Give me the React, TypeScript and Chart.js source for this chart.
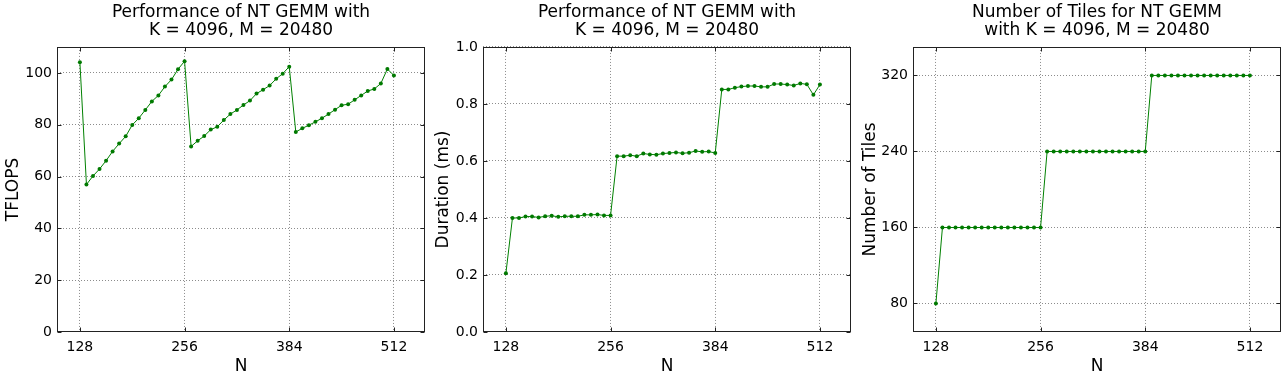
import React, { useEffect, useRef } from "react";
import { Chart, registerables } from "chart.js";

Chart.register(...registerables);

const nValues = [
  128, 136, 144, 152, 160, 168, 176, 184, 192, 200, 208, 216, 224, 232, 240, 248, 256,
  264, 272, 280, 288, 296, 304, 312, 320, 328, 336, 344, 352, 360, 368, 376, 384,
  392, 400, 408, 416, 424, 432, 440, 448, 456, 464, 472, 480, 488, 496, 504, 512,
];

const tflops = [
  104.1, 56.9, 60.2, 62.9, 66.1, 69.7, 72.7, 75.5, 79.9, 82.5, 85.7, 89.0, 91.3, 94.7, 97.4, 101.4, 104.5,
  71.6, 73.8, 75.6, 78.1, 79.2, 81.8, 84.1, 85.7, 87.6, 89.3, 92.0, 93.5, 95.1, 97.7, 99.7, 102.4,
  77.2, 78.6, 79.8, 81.1, 82.5, 84.1, 85.8, 87.5, 87.9, 89.6, 91.3, 93.0, 93.8, 95.9, 101.5, 99.0,
];

const durationMs = [
  0.206, 0.4, 0.4, 0.405, 0.405, 0.402, 0.406, 0.408, 0.404, 0.406, 0.406, 0.406, 0.411, 0.411, 0.412, 0.409, 0.409,
  0.617, 0.617, 0.62, 0.617, 0.626, 0.623, 0.622, 0.626, 0.628, 0.63, 0.627, 0.629, 0.635, 0.632, 0.633, 0.628,
  0.851, 0.851, 0.857, 0.861, 0.863, 0.863, 0.86, 0.86, 0.87, 0.87, 0.868, 0.865, 0.872, 0.869, 0.832, 0.868,
];

const tiles = [
  80, 160, 160, 160, 160, 160, 160, 160, 160, 160, 160, 160, 160, 160, 160, 160, 160,
  240, 240, 240, 240, 240, 240, 240, 240, 240, 240, 240, 240, 240, 240, 240, 240,
  320, 320, 320, 320, 320, 320, 320, 320, 320, 320, 320, 320, 320, 320, 320, 320,
];

const xTicks = [128, 256, 384, 512];
const tflopsTicks = [0, 20, 40, 60, 80, 100];
const durationTicks = [0, 0.2, 0.4, 0.6, 0.8, 1.0];
const tileTicks = [80, 160, 240, 320];

const titleA = ["Performance of NT GEMM with", "K = 4096, M = 20480"];
const titleC = ["Number of Tiles for NT GEMM", "with K = 4096, M = 20480"];

const FONT = "'DejaVu Sans', 'Liberation Sans', sans-serif";
const Y_W = 60;
const CANVAS_W = 488;
const CANVAS_H = 377;

const framePlugin = {
  id: "frameTicks",
  afterDraw(chart: any) {
    const { ctx, chartArea: a, scales } = chart;
    ctx.save();
    ctx.strokeStyle = "#222";
    ctx.lineWidth = 1;
    const L = Math.round(a.left) + 0.5;
    const R = Math.round(a.right) - 0.5;
    const T = Math.round(a.top) + 0.5;
    const B = Math.round(a.bottom) - 0.5;
    ctx.strokeRect(L, T, R - L, B - T);
    const tl = 4;
    ctx.beginPath();
    scales.x.ticks.forEach((t: any) => {
      const px = Math.round(scales.x.getPixelForValue(t.value)) + 0.5;
      ctx.moveTo(px, B);
      ctx.lineTo(px, B - tl);
      ctx.moveTo(px, T);
      ctx.lineTo(px, T + tl);
    });
    scales.y.ticks.forEach((t: any) => {
      const py = Math.round(scales.y.getPixelForValue(t.value)) + 0.5;
      ctx.moveTo(L, py);
      ctx.lineTo(L + tl, py);
      ctx.moveTo(R, py);
      ctx.lineTo(R - tl, py);
    });
    ctx.stroke();
    ctx.restore();
  },
};

type PanelProps = {
  left: number;
  title: string[];
  yLabel: string;
  yValues: number[];
  yMin: number;
  yMax: number;
  yTicks: number[];
  yFmt: (v: number) => string;
  yTitlePad: number;
};

function Panel(p: PanelProps) {
  const ref = useRef<HTMLCanvasElement | null>(null);
  useEffect(() => {
    if (!ref.current) return;
    const chart = new Chart(ref.current, {
      type: "line",
      data: {
        datasets: [
          {
            data: nValues.map((n, i) => ({ x: n, y: p.yValues[i] })),
            borderColor: "#008000",
            backgroundColor: "#008000",
            borderWidth: 1,
            pointRadius: 2,
            pointBorderWidth: 0,
            pointBackgroundColor: "#007a00",
            pointHoverRadius: 2,
            tension: 0,
            fill: false,
          },
        ],
      },
      options: {
        responsive: false,
        animation: false,
        events: [],
        layout: { padding: 0 },
        plugins: {
          legend: { display: false },
          tooltip: { enabled: false },
          title: {
            display: true,
            text: p.title,
            color: "#000",
            font: { family: FONT, size: 17, weight: "normal", lineHeight: 1.04 },
            padding: { top: 4, bottom: 7.6 },
          },
        },
        scales: {
          x: {
            type: "linear",
            min: 100,
            max: 550,
            afterBuildTicks: (s: any) => {
              s.ticks = xTicks.map((v) => ({ value: v }));
            },
            afterFit: (s: any) => {
              s.height = 45;
            },
            grid: { color: "rgba(0,0,0,0.45)", lineWidth: 1, drawTicks: false },
            border: { display: false, dash: [1, 2] },
            ticks: {
              color: "#000",
              padding: 7,
              maxRotation: 0,
              font: { family: FONT, size: 14 },
              callback: (v: any) => String(v),
            },
            title: {
              display: true,
              text: "N",
              color: "#000",
              font: { family: FONT, size: 17, lineHeight: 1.2 },
              padding: { top: 0, bottom: 0.5 },
            },
          },
          y: {
            type: "linear",
            position: "left",
            min: p.yMin,
            max: p.yMax,
            afterBuildTicks: (s: any) => {
              s.ticks = p.yTicks.map((v) => ({ value: v }));
            },
            afterFit: (s: any) => {
              s.width = Y_W;
            },
            grid: { color: "rgba(0,0,0,0.45)", lineWidth: 1, drawTicks: false },
            border: { display: false, dash: [1, 2] },
            ticks: {
              color: "#000",
              padding: 5,
              font: { family: FONT, size: 14 },
              callback: (v: any) => p.yFmt(Number(v)),
            },
            title: {
              display: true,
              text: p.yLabel,
              color: "#000",
              font: { family: FONT, size: 17, lineHeight: 1.2 },
              padding: { top: p.yTitlePad, bottom: 0 },
            },
          },
          ySpacer: {
            type: "linear",
            position: "right",
            min: 0,
            max: 1,
            afterFit: (s: any) => {
              s.width = Y_W;
            },
            grid: { display: false, drawTicks: false },
            border: { display: false },
            ticks: { display: false },
          },
        },
      },
      plugins: [framePlugin],
    } as any);
    return () => chart.destroy();
  }, []);
  return (
    <canvas
      ref={ref}
      width={CANVAS_W}
      height={CANVAS_H}
      style={{ position: "absolute", left: p.left, top: 0, width: CANVAS_W, height: CANVAS_H }}
    />
  );
}

export default function App() {
  return (
    <div
      style={{
        position: "fixed",
        left: 0,
        top: 0,
        width: 1285,
        height: 377,
        overflow: "hidden",
        background: "#fff",
      }}
    >
      <Panel
        left={-3}
        title={titleA}
        yLabel="TFLOPS"
        yValues={tflops}
        yMin={0}
        yMax={110}
        yTicks={tflopsTicks}
        yFmt={(v) => String(v)}
        yTitlePad={6}
      />
      <Panel
        left={423}
        title={titleA}
        yLabel="Duration (ms)"
        yValues={durationMs}
        yMin={0}
        yMax={1.0}
        yTicks={durationTicks}
        yFmt={(v) => v.toFixed(1)}
        yTitlePad={10.5}
      />
      <Panel
        left={853}
        title={titleC}
        yLabel="Number of Tiles"
        yValues={tiles}
        yMin={50}
        yMax={350}
        yTicks={tileTicks}
        yFmt={(v) => String(v)}
        yTitlePad={7}
      />
    </div>
  );
}
